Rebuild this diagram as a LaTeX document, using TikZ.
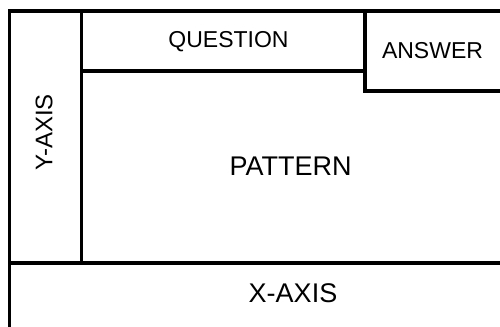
\documentclass[tikz,border=0pt]{standalone}
\usepackage{fontspec}
\setmainfont{Liberation Sans}
\usepackage{tikz}
\usetikzlibrary{calc}

\begin{document}
\begin{tikzpicture}[x=0.75pt,y=-0.75pt,line width=2.7pt]
\useasboundingbox (0,0) rectangle (500,326);
\clip (0,0) rectangle (500,326);
%\draw[help lines] (0,0) grid (500,326);
\def\Left{9.5}
\def\Top{11}
  \path
    (\Left,\Top) coordinate (A)
    (503,\Top) coordinate (B)
    (\Left,329) coordinate (C)
    (81.5,\Top) coordinate (Y1)
    (81.5,263) coordinate (Y2)
    (\Left,263) coordinate (X1)
    (503,263) coordinate (X2)
    (81.5,71) coordinate (Q1)
    (365,71) coordinate (Q2)
    (365,\Top) coordinate (S1)
    (365,91) coordinate (S2)
    (503,91) coordinate (S3)
  ;
\draw (C) -- (A) -- (B);
\draw (Y1) -- (Y2);
\draw (X1) -- (X2);
\draw (Q1) -- (Q2);
\draw (S1) -- (S2) -- (S3);

\node (question) at (228.5,42) {\fontsize{17.25}{20}\selectfont QUESTION};
\node (answer) at (432.5,51) {\fontsize{17.25}{20}\selectfont ANSWER};
\node (pattern) at (290.5,166) {\fontsize{20.25}{24}\selectfont PATTERN};
\node (xaxis) at (293,293.5) {\fontsize{20.25}{24}\selectfont X-AXIS};
\node[rotate=90] (yaxis) at (44,132.5) {\fontsize{18}{22}\selectfont Y-AXIS};
\end{tikzpicture}
\end{document}
